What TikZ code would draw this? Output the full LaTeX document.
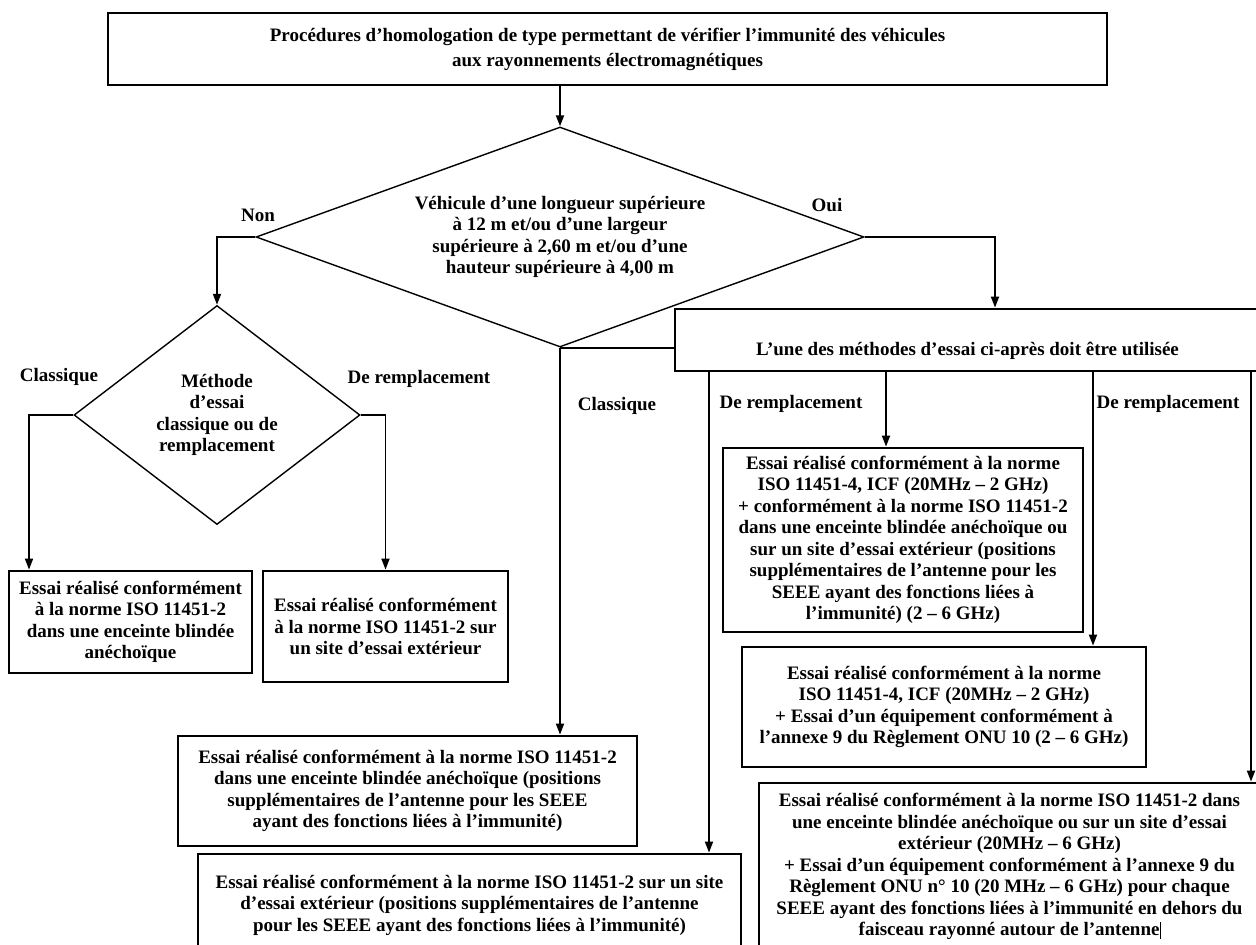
\documentclass[tikz,border=0pt]{standalone}
\usepackage{fontspec}
\setmainfont{Liberation Serif}
\usetikzlibrary{shapes.geometric,arrows.meta}
\newcommand\bxfont{\bfseries\fontsize{19}{21.5}\selectfont}
\newcommand\topfont{\bfseries\fontsize{19}{25}\selectfont}
\begin{document}
\begin{tikzpicture}[x=1pt,y=-1pt,
  box/.style={draw,line width=2.8pt,inner sep=0pt,align=center,font=\bxfont},
  dia/.style={draw,diamond,line width=1.4pt,inner sep=0pt,align=center,font=\bxfont},
  lbl/.style={inner sep=0pt,font=\bxfont},
  arr/.style={line width=1.8pt,-{Triangle[length=11pt,width=8pt]}},
  con/.style={line width=2.4pt}]
\useasboundingbox (0,0) rectangle (1256,945);
\clip (0,0) rectangle (1256,945);
\fill[white] (0,0) rectangle (1256,945);

% nodes
\node[box,font=\topfont,minimum width=999pt,minimum height=72pt] (top) at (607.5,49)
 {Procédures d’homologation de type permettant de vérifier l’immunité des véhicules\\ aux rayonnements électromagnétiques};
\node[dia,minimum width=608pt,minimum height=220pt,aspect=2.76] (d1) at (560,237)
 {Véhicule d’une longueur supérieure\\ à 12 m et/ou d’une largeur\\ supérieure à 2,60 m et/ou d’une\\ hauteur supérieure à 4,00 m};
\node[dia,minimum width=286pt,minimum height=219pt,aspect=1.3] (d2) at (217,415)
 {Méthode\\ d’essai\\ classique ou de\\ remplacement};
\node[box,minimum width=243pt,minimum height=102pt] (b1) at (130.5,622)
 {Essai réalisé conformément\\ à la norme ISO 11451-2\\ dans une enceinte blindée\\ anéchoïque};
\node[box,minimum width=245pt,minimum height=111pt] (b2) at (385.5,626.5)
 {Essai réalisé conformément\\ à la norme ISO 11451-2 sur\\ un site d’essai extérieur};
\node[box,minimum width=459pt,minimum height=110pt] (b3) at (407.5,791)
 {Essai réalisé conformément à la norme ISO 11451-2\\ dans une enceinte blindée anéchoïque (positions\\ supplémentaires de l’antenne pour les SEEE\\ ayant des fonctions liées à l’immunité)};
\node[box,minimum width=543pt,minimum height=102pt] (b4) at (469.5,905)
 {Essai réalisé conformément à la norme ISO 11451-2 sur un site\\ d’essai extérieur (positions supplémentaires de l’antenne\\ pour les SEEE ayant des fonctions liées à l’immunité)};
\node[box,minimum width=585pt,minimum height=62pt] (b5) at (967.5,340)
 {\raisebox{-11pt}[\height][\depth]{L’une des méthodes d’essai ci-après doit être utilisée}};
\node[box,minimum width=360pt,minimum height=184pt] (b6) at (903,540)
 {Essai réalisé conformément à la norme\\ ISO 11451-4, ICF (20MHz – 2 GHz)\\ + conformément à la norme ISO 11451-2\\ dans une enceinte blindée anéchoïque ou\\ sur un site d’essai extérieur (positions\\ supplémentaires de l’antenne pour les\\ SEEE ayant des fonctions liées à\\ l’immunité) (2 – 6 GHz)};
\node[box,minimum width=404pt,minimum height=120pt] (b7) at (944,707)
 {Essai réalisé conformément à la norme\\ ISO 11451-4, ICF (20MHz – 2 GHz)\\ + Essai d’un équipement conformément à\\ l’annexe 9 du Règlement ONU 10 (2 – 6 GHz)};
\node[box,minimum width=501pt,minimum height=167pt] (b8) at (1009.5,866.5)
 {Essai réalisé conformément à la norme ISO 11451-2 dans\\ une enceinte blindée anéchoïque ou sur un site d’essai\\ extérieur (20MHz – 6 GHz)\\ + Essai d’un équipement conformément à l’annexe 9 du\\ Règlement ONU n° 10 (20 MHz – 6 GHz) pour chaque\\ SEEE ayant des fonctions liées à l’immunité en dehors du\\ faisceau rayonné autour de l’antenne\rule[-3pt]{0.8pt}{17pt}};

% labels
\node[lbl] (lnon) at (258,215) {Non};
\node[lbl] (loui) at (827,205) {Oui};
\node[lbl] (lcl1) at (59,377) {Classique};
\node[lbl] (lre1) at (419,379) {De remplacement};
\node[lbl] (lcl2) at (617,406) {Classique};
\node[lbl] (lre2) at (791,404) {De remplacement};
\node[lbl] (lre3) at (1168,404) {De remplacement};

% connector columns
\coordinate (xnon) at (216,0);
\coordinate (xoui) at (995,0);
\coordinate (xll) at (29,0);
\coordinate (xc1) at (709,0);
\coordinate (xc2) at (886,0);
\coordinate (xc3) at (1093,0);
\coordinate (xc4) at (1251,0);

% connectors
\draw[arr] (top.south -| d1.north) -- (d1.north);
\draw[arr] (d1.west) -| (d2.north);
\draw[arr] (d1.east) -| (xoui |- b5.north);
\draw[con] (d1.south) -- (d1.south -| b5.west);
\draw[arr] (d1.south) -- (d1.south |- b3.north);
\draw[arr] (d2.west) -| (xll |- b1.north);
\draw[arr] (d2.east) -| (b2.north);
\draw[arr] (xc1 |- b5.south) -- (xc1 |- b4.north);
\draw[arr] (xc2 |- b5.south) -- (xc2 |- b6.north);
\draw[arr] (xc3 |- b5.south) -- (xc3 |- b7.north);
\draw[arr] (xc4 |- b5.south) -- (xc4 |- b8.north);
\end{tikzpicture}
\end{document}
